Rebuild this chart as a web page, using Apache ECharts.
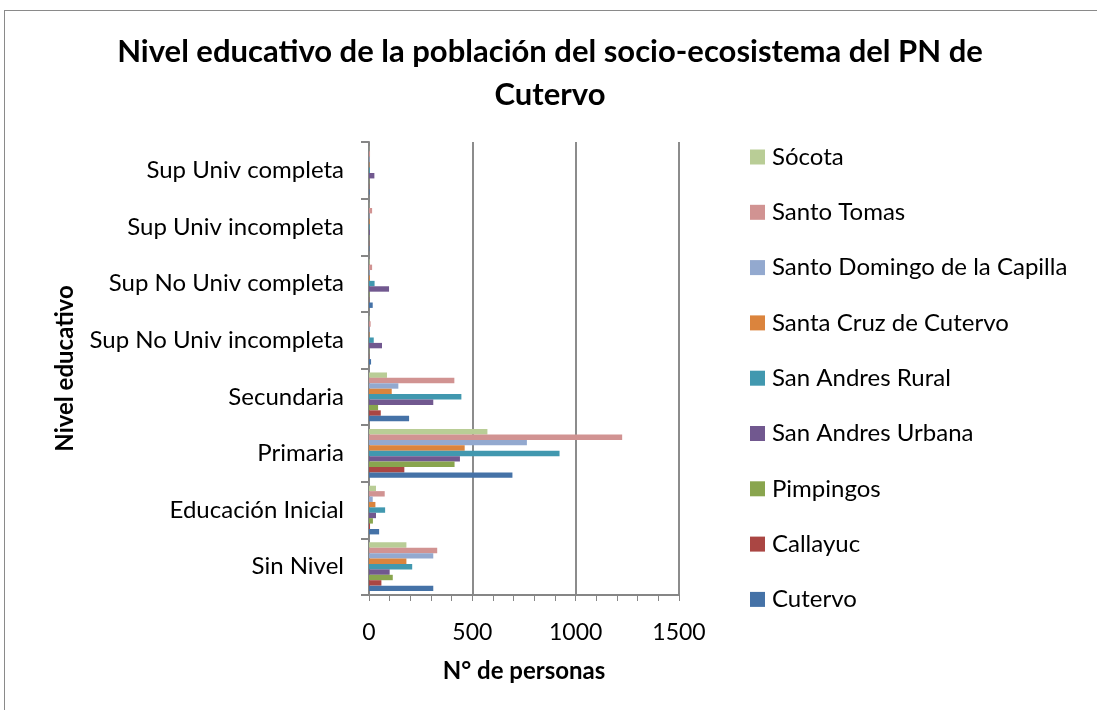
<!DOCTYPE html>
<html>
<head>
<meta charset="utf-8">
<script src="https://cdn.jsdelivr.net/npm/echarts@6/dist/echarts.min.js"></script>
<style>
  html, body { margin: 0; padding: 0; background: #fff; }
  #chart { width: 1097px; height: 710px; }
  #frame { position: absolute; left: 4px; top: 10px; width: 1100px; height: 710px; border: 1px solid #8a8a8a; box-sizing: border-box; pointer-events: none; }
</style>
</head>
<body>
<div id="chart"></div>
<div id="frame"></div>
<script>
// categories, bottom to top
const categories = ['Sin Nivel', 'Educación Inicial', 'Primaria', 'Secundaria',
  'Sup No Univ incompleta', 'Sup No Univ completa', 'Sup Univ incompleta', 'Sup Univ completa'];

const xTicks = [0, 500, 1000, 1500];

// values per district, same order as categories
const cutervo      = [311, 49, 694, 194, 10, 18, 2, 3];
const callayuc     = [60, 5, 171, 57, 1, 1, 1, 1];
const pimpingos    = [115, 19, 414, 44, 1, 2, 1, 1];
const sanAndresUrb = [100, 34, 440, 311, 63, 97, 4, 26];
const sanAndresRur = [209, 78, 922, 447, 23, 27, 3, 4];
const santaCruz    = [181, 31, 463, 110, 2, 4, 3, 2];
const santoDomingo = [311, 18, 764, 142, 3, 3, 2, 3];
const santoTomas   = [330, 76, 1225, 413, 8, 15, 15, 5];
const socota       = [181, 34, 573, 87, 2, 3, 1, 1];

// listed top-of-group first, which is also the legend order
const seriesDefs = [
  ['Sócota', socota, '#B9CD96'],
  ['Santo Tomas', santoTomas, '#D19392'],
  ['Santo Domingo de la Capilla', santoDomingo, '#93A9CF'],
  ['Santa Cruz de Cutervo', santaCruz, '#DB843D'],
  ['San Andres Rural', sanAndresRur, '#4198AF'],
  ['San Andres Urbana', sanAndresUrb, '#71588F'],
  ['Pimpingos', pimpingos, '#89A54E'],
  ['Callayuc', callayuc, '#AA4643'],
  ['Cutervo', cutervo, '#4572A7']
];

const font = 'Lato, "Open Sans", sans-serif';
const chart = echarts.init(document.getElementById('chart'));

chart.setOption({
  animation: false,
  textStyle: { fontFamily: font, color: '#000' },
  title: {
    text: 'Nivel educativo de la población del socio-ecosistema del PN de\nCutervo',
    left: 545, top: 25, textAlign: 'center',
    textStyle: { fontFamily: font, fontSize: 31, fontWeight: 'bold', lineHeight: 43, color: '#000' }
  },
  legend: {
    orient: 'vertical',
    left: 745, top: 140,
    itemWidth: 15, itemHeight: 15, itemGap: 31.3,
    icon: 'rect',
    textStyle: { fontFamily: font, fontSize: 24, lineHeight: 24, color: '#000', padding: [0, 0, 0, 2] }
  },
  grid: { left: 369, right: 418, top: 142, bottom: 115, containLabel: false },
  xAxis: {
    type: 'value',
    min: xTicks[0], max: xTicks[xTicks.length - 1], interval: 500,
    name: 'N° de personas', nameLocation: 'middle', nameGap: 64,
    nameTextStyle: { fontFamily: font, fontSize: 24, fontWeight: 'bold', color: '#000' },
    axisLine: { show: true, lineStyle: { color: '#868686', width: 2 } },
    axisTick: { show: true, length: 6, lineStyle: { color: '#868686', width: 1 } },
    minorTick: { show: true, splitNumber: 5, length: 6, lineStyle: { color: '#868686', width: 1 } },
    axisLabel: { fontFamily: font, fontSize: 23, color: '#000', margin: 26, formatter: v => String(v) },
    splitLine: { show: true, lineStyle: { color: '#8c8c8c', width: 2 } }
  },
  yAxis: {
    type: 'category',
    data: categories,
    name: 'Nivel educativo', nameLocation: 'middle', nameGap: 292, nameRotate: 90,
    nameTextStyle: { fontFamily: font, fontSize: 24, fontWeight: 'bold', color: '#000' },
    axisLine: { show: true, lineStyle: { color: '#868686', width: 2 } },
    axisTick: { show: true, length: 8, lineStyle: { color: '#868686', width: 2 } },
    axisLabel: { fontFamily: font, fontSize: 24, color: '#000', margin: 25 },
    splitLine: { show: false }
  },
  series: seriesDefs.map(([name, data, color]) => ({
    name, type: 'bar', data,
    barGap: '0%', barCategoryGap: '14%',
    itemStyle: { color }
  }))
});
</script>
</body>
</html>
